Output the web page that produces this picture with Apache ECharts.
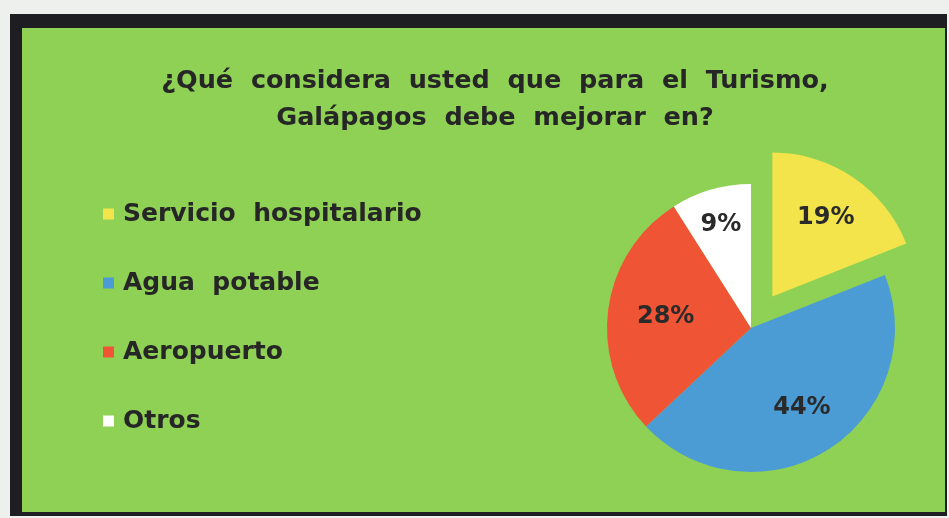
<!DOCTYPE html>
<html>
<head>
<meta charset="utf-8">
<style>
html,body{margin:0;padding:0;background:#eef0ee;}
#chart{width:949px;height:518px;}
</style>
<script src="https://cdn.jsdelivr.net/npm/echarts@6/dist/echarts.min.js"></script>
</head>
<body>
<div id="chart"></div>
<script>
const titleLines = ['¿Qué  considera  usted  que  para  el  Turismo,', 'Galápagos  debe  mejorar  en?'];
const categories = ['Servicio  hospitalario', 'Agua  potable', 'Aeropuerto', 'Otros'];
const values = [19, 44, 28, 9];
const colors = ['#f3e44c', '#4b9bd5', '#ef5535', '#ffffff'];

const chart = echarts.init(document.getElementById('chart'), null, {renderer: 'canvas'});
const FONT = '"DejaVu Sans", sans-serif';
const center = [751, 328];
const R = 144;

const mainData = categories.map((n, i) => ({
  name: n, value: values[i], selected: i === 0,
  itemStyle: {color: colors[i]}
}));

// label-only overlay pies; each shows the labels of some slices at its own mid radius
function labelSeries(innerR, showIdx) {
  return {
    type: 'pie', center: center, radius: [innerR, R], startAngle: 90, clockwise: true,
    selectedMode: 'single', selectedOffset: 38, silent: true,
    data: categories.map((n, i) => ({
      name: n, value: values[i], selected: i === 0,
      label: {show: showIdx.indexOf(i) >= 0}
    })),
    itemStyle: {color: 'rgba(0,0,0,0)', borderWidth: 0},
    label: {position: 'inside', formatter: '{c}%', fontFamily: FONT, fontWeight: 'bold', fontSize: 24, color: '#2a2a2a'},
    labelLine: {show: false}
  };
}

chart.setOption({
  backgroundColor: '#eef0ee',
  animation: false,
  graphic: [
    {type: 'rect', shape: {x: 10, y: 14, width: 937, height: 502}, style: {fill: '#1e1e22'}, z: -10},
    {type: 'rect', shape: {x: 22, y: 28, width: 923, height: 484}, style: {fill: '#8ed154'}, z: -9}
  ],
  title: {
    text: titleLines.join('\n'),
    left: 490, top: 58, textAlign: 'center',
    textStyle: {fontFamily: FONT, fontWeight: 'bold', fontSize: 25.5, lineHeight: 37, color: '#262626'}
  },
  legend: {
    orient: 'vertical', left: 103, top: 199, padding: 0,
    itemWidth: 11, itemHeight: 11, itemGap: 39, icon: 'rect',
    data: categories,
    selectedMode: false,
    textStyle: {fontFamily: FONT, fontWeight: 'bold', fontSize: 25, lineHeight: 30, color: '#262626', padding: [0, 0, 0, 4]}
  },
  series: [
    {
      type: 'pie', center: center, radius: [0, R], startAngle: 90, clockwise: true,
      selectedMode: 'single', selectedOffset: 38,
      data: mainData,
      label: {show: false}, labelLine: {show: false},
      itemStyle: {borderWidth: 0}
    },
    labelSeries(40, [0, 1]),
    labelSeries(22, [2]),
    labelSeries(66, [3])
  ]
});
</script>
</body>
</html>
